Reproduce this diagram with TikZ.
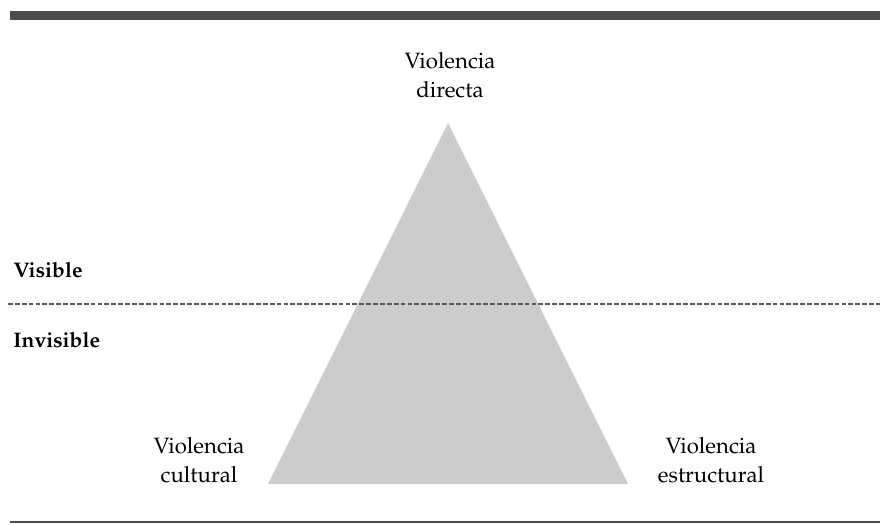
\documentclass[tikz,border=0pt]{standalone}
\usepackage[T1]{fontenc}
\usepackage{mathpazo}
\usepackage{tikz}
\definecolor{bargray}{HTML}{4D4D4D}
\definecolor{trigray}{HTML}{CCCCCC}
\definecolor{dashgray}{HTML}{5A5A5A}
\begin{document}
\begin{tikzpicture}
        \useasboundingbox (0, 0) rectangle (22, 13.1);
        % frame lines
        \coordinate (topL) at (0.25, 12.71);
        \coordinate (topR) at (22, 12.71);
        \coordinate (botL) at (0.25, 0.05);
        \coordinate (botR) at (22, 0.05);
        \coordinate (dashL) at (0.2, 5.5);
        \coordinate (dashR) at (22, 5.5);
        \draw[bargray, line width=6.4pt] (topL) -- (topR);
        \draw[bargray, line width=1.2pt] (botL) -- (botR);
        % triangle
        \coordinate (apex) at (11.2, 10.025);
        \coordinate (baseL) at (6.7, 1.0);
        \coordinate (baseR) at (15.7, 1.0);
        \fill[trigray] (apex) -- (baseL) -- (baseR) -- cycle;
        \draw[dashgray, line width=0.8pt, dash pattern=on 3.4pt off 1.5pt] (dashL) -- (dashR);
        \begin{scope}[every node/.style={align=center, inner sep=0pt, font=\fontsize{15.8}{20.6}\selectfont}]
            \node (directa) at (11.25, 11.21) {Violencia\\directa};
            \node (cultural) at (4.975, 1.59) {Violencia\\cultural};
            \node (estructural) at (17.775, 1.59) {Violencia\\estructural};
        \end{scope}
        \begin{scope}[every node/.style={anchor=base west, inner sep=0pt, font=\fontsize{15}{18}\selectfont\bfseries}]
            \node (visible) at (0.33, 6.15) {Visible};
            \node (invisible) at (0.33, 4.425) {Invisible};
        \end{scope}
    \end{tikzpicture}
\end{document}
